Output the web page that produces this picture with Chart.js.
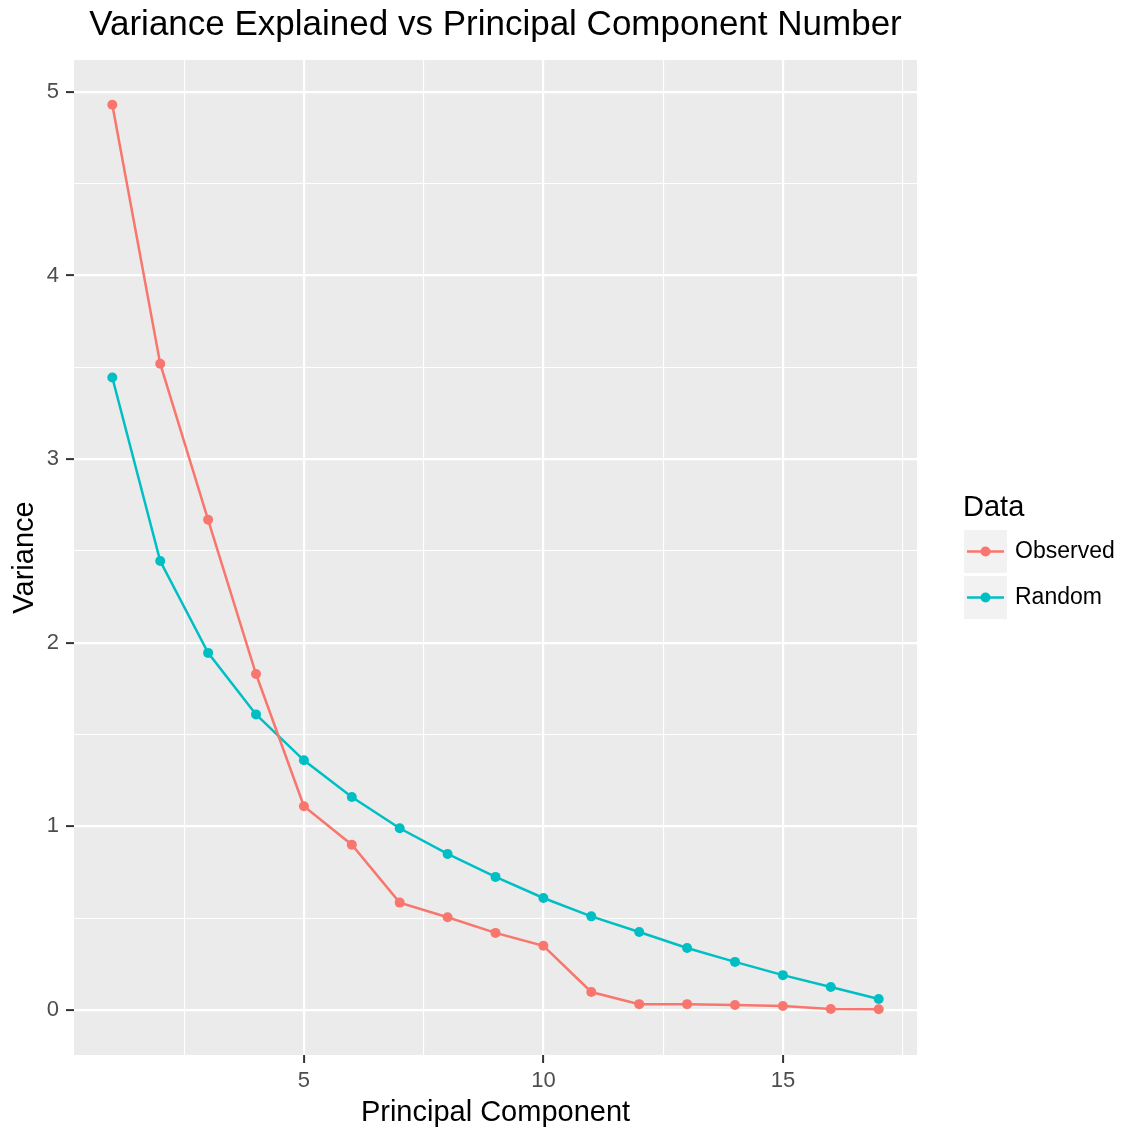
<!DOCTYPE html>
<html>
<head>
<meta charset="utf-8">
<script src="https://cdn.jsdelivr.net/npm/chart.js@4.4.1/dist/chart.umd.min.js"></script>
<style>
  html, body { margin: 0; padding: 0; background: #fff; }
  #wrap { width: 1123px; height: 1134px; position: relative; }
</style>
</head>
<body>
<div id="wrap"><canvas id="myChart" width="1123" height="1134"></canvas></div>
<script>
// component numbers and the two variance series
let components = [1, 2, 3, 4, 5, 6, 7, 8, 9, 10, 11, 12, 13, 14, 15, 16, 17];
let observed = [4.93, 3.52, 2.67, 1.83, 1.11, 0.90, 0.585, 0.505, 0.42, 0.35, 0.098, 0.032, 0.032, 0.027, 0.022, 0.006, 0.004];
let random = [3.445, 2.445, 1.945, 1.61, 1.36, 1.16, 0.99, 0.85, 0.725, 0.61, 0.51, 0.425, 0.338, 0.262, 0.19, 0.125, 0.06];

let xTicks = [2.5, 5, 7.5, 10, 12.5, 15, 17.5];
let yTicks = [0, 0.5, 1, 1.5, 2, 2.5, 3, 3.5, 4, 4.5, 5];
let seriesNames = ['Observed', 'Random'];
let seriesColors = ['#F8766D', '#00BFC4'];

const FONT = '"Liberation Sans", Arial, sans-serif';

function toPoints(values) {
    return components.map((c, i) => ({ x: c, y: values[i] }));
}

let isMajorX = v => v % 5 === 0;
let isMajorY = v => v % 1 === 0;

const panelPlugin = {
    id: 'panel',
    beforeDraw(chart) {
        const { ctx, chartArea: a } = chart;
        ctx.save();
        ctx.fillStyle = '#EBEBEB';
        ctx.fillRect(a.left, a.top, a.right - a.left, a.bottom - a.top);
        ctx.restore();
    },
    afterDraw(chart) {
        const { ctx, chartArea: a } = chart;
        const cx = (a.left + a.right) / 2;
        const cy = (a.top + a.bottom) / 2;
        ctx.save();
        ctx.fillStyle = '#000';
        ctx.textAlign = 'center';
        ctx.textBaseline = 'middle';

        // title
        ctx.font = '35px ' + FONT;
        ctx.fillText('Variance Explained vs Principal Component Number', cx, 25);

        // axis titles
        ctx.font = '29px ' + FONT;
        ctx.fillText('Principal Component', cx, 1113);
        ctx.save();
        ctx.translate(25, cy);
        ctx.rotate(-Math.PI / 2);
        ctx.fillText('Variance', 0, 0);
        ctx.restore();

        // legend
        ctx.textAlign = 'left';
        ctx.font = '29px ' + FONT;
        ctx.fillText('Data', 963, 508);
        ctx.font = '23px ' + FONT;
        seriesNames.forEach((name, i) => {
            const top = 530 + i * 46;
            ctx.fillStyle = '#F2F2F2';
            ctx.fillRect(964, top, 43, 43);
            ctx.strokeStyle = seriesColors[i];
            ctx.lineWidth = 2.5;
            ctx.beginPath();
            ctx.moveTo(967, top + 21.5);
            ctx.lineTo(1004, top + 21.5);
            ctx.stroke();
            ctx.fillStyle = seriesColors[i];
            ctx.beginPath();
            ctx.arc(985.5, top + 21.5, 5, 0, Math.PI * 2);
            ctx.fill();
            ctx.fillStyle = '#000';
            ctx.fillText(name, 1015, top + 22);
        });
        ctx.restore();
    }
};

const ctx = document.getElementById('myChart').getContext('2d');

new Chart(ctx, {
    type: 'line',
    data: {
        datasets: [
            {
                label: seriesNames[0],
                data: toPoints(observed),
                borderColor: seriesColors[0],
                backgroundColor: seriesColors[0],
                borderWidth: 2.5,
                pointRadius: 5,
                pointBorderWidth: 0,
                tension: 0
            },
            {
                label: seriesNames[1],
                data: toPoints(random),
                borderColor: seriesColors[1],
                backgroundColor: seriesColors[1],
                borderWidth: 2.5,
                pointRadius: 5,
                pointBorderWidth: 0,
                tension: 0
            }
        ]
    },
    options: {
        responsive: false,
        animation: false,
        layout: { padding: { left: 0, top: 60, right: 206, bottom: 0 } },
        plugins: {
            legend: { display: false },
            title: { display: false },
            tooltip: { enabled: false }
        },
        scales: {
            x: {
                type: 'linear',
                min: 0.2,
                max: 17.8,
                border: { display: false },
                afterBuildTicks: scale => { scale.ticks = xTicks.map(v => ({ value: v })); },
                afterFit: scale => { scale.height = 79; },
                grid: {
                    color: '#FFFFFF',
                    lineWidth: c => isMajorX(c.tick.value) ? 2.2 : 1.1,
                    tickColor: c => isMajorX(c.tick.value) ? '#333333' : 'rgba(0,0,0,0)',
                    tickWidth: 2,
                    tickLength: 8
                },
                ticks: {
                    autoSkip: false,
                    maxRotation: 0,
                    padding: 5,
                    color: '#4D4D4D',
                    font: { family: FONT, size: 22 },
                    callback: v => isMajorX(v) ? String(v) : ''
                }
            },
            y: {
                type: 'linear',
                min: -0.245,
                max: 5.174,
                border: { display: false },
                afterBuildTicks: scale => { scale.ticks = yTicks.map(v => ({ value: v })); },
                afterFit: scale => { scale.width = 74; },
                grid: {
                    color: '#FFFFFF',
                    lineWidth: c => isMajorY(c.tick.value) ? 2.2 : 1.1,
                    tickColor: c => isMajorY(c.tick.value) ? '#333333' : 'rgba(0,0,0,0)',
                    tickWidth: 2,
                    tickLength: 8
                },
                ticks: {
                    autoSkip: false,
                    padding: 7,
                    color: '#4D4D4D',
                    font: { family: FONT, size: 22 },
                    callback: v => isMajorY(v) ? String(v) : ''
                }
            }
        }
    },
    plugins: [panelPlugin]
});
</script>
</body>
</html>
